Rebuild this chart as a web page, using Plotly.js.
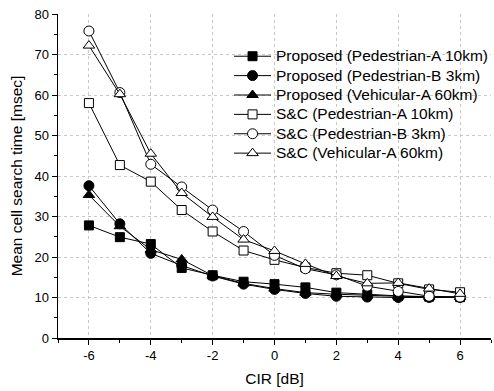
<!DOCTYPE html>
<html>
<head>
<meta charset="utf-8">
<script src="https://cdn.plot.ly/plotly-3.0.1.min.js"></script>
<style>html,body{margin:0;padding:0;background:#fff;}#chart{width:494px;height:391px;}</style>
</head>
<body>
<div id="chart"></div>
<script>
const cir = [-6, -5, -4, -3, -2, -1, 0, 1, 2, 3, 4, 5, 6];
const propPedA = [27.8, 24.9, 23.2, 17.3, 15.5, 13.9, 13.3, 12.5, 11.2, 10.8, 10.4, 10.2, 10.1];
const propPedB = [37.6, 28.2, 20.9, 17.9, 15.3, 13.3, 12.0, 11.0, 10.3, 10.1, 10.0, 10.0, 10.0];
const propVehA = [35.3, 27.6, 21.8, 19.4, 15.4, 13.5, 12.2, 11.2, 10.8, 10.5, 10.3, 10.2, 10.1];
const scPedA = [58.0, 42.7, 38.6, 31.6, 26.3, 21.6, 19.3, 17.4, 16.0, 15.5, 13.5, 12.0, 11.3];
const scPedB = [75.8, 60.6, 42.9, 37.3, 31.6, 26.3, 20.4, 17.1, 15.6, 12.8, 11.5, 10.3, 10.1];
const scVehA = [72.2, 60.2, 45.5, 35.8, 29.9, 24.3, 21.5, 18.3, 15.3, 13.5, 13.6, 12.2, 10.9];
const names = [
  'Proposed (Pedestrian-A 10km)',
  'Proposed (Pedestrian-B 3km)',
  'Proposed (Vehicular-A 60km)',
  'S&C (Pedestrian-A 10km)',
  'S&C (Pedestrian-B 3km)',
  'S&C (Vehicular-A 60km)'
];
const xTickVals = [-6, -4, -2, 0, 2, 4, 6];
const xTickText = ['-6', '-4', '-2', '0', '2', '4', '6'];
const series = [propPedA, propPedB, propVehA, scPedA, scPedB, scVehA];
const symbols = ['square', 'circle', 'triangle-up', 'square', 'circle', 'triangle-up'];
const sizes = [9, 10, 10, 9, 10, 10];

const esc = s => s.replace(/&/g, '&amp;');
const traces = series.map((ys, i) => ({
  x: cir, y: ys, type: 'scatter', mode: 'lines+markers',
  name: '<span style="font-size:15.5px">' + esc(names[i]) + '</span>',
  line: {color: '#000', width: 1},
  marker: {symbol: symbols[i], size: sizes[i], color: i < 3 ? '#000' : '#fff',
           line: {color: '#000', width: 1}}
}));

const FONT = 'Liberation Sans, Arial, sans-serif';
const axisCommon = {
  showline: true, linecolor: '#000', linewidth: 1.5, mirror: false,
  ticks: 'outside', ticklen: 5, tickwidth: 1, tickcolor: '#000',
  showgrid: true, gridcolor: '#c8c8c8', griddash: 'dot', gridwidth: 1,
  zeroline: false, tickfont: {family: FONT, size: 13, color: '#000'}
};

const layout = {
  width: 494, height: 391,
  margin: {l: 58, r: 1, t: 14, b: 53},
  paper_bgcolor: '#fff', plot_bgcolor: '#fff',
  showlegend: true,
  legend: {x: 0.395, y: 0.915, xanchor: 'left', yanchor: 'top', bgcolor: 'rgba(0,0,0,0)',
           font: {family: FONT, size: 12.6, color: '#000'},
           tracegroupgap: 0, itemwidth: 37},
  xaxis: Object.assign({}, axisCommon, {
    range: [-7, 7], tickvals: xTickVals, ticktext: xTickText,
    minor: {dtick: 1, ticks: 'outside', ticklen: 3, tickcolor: '#000', showgrid: false},
    title: {text: 'CIR [dB]', font: {family: FONT, size: 15.5, color: '#000'}, standoff: 11}
  }),
  yaxis: Object.assign({}, axisCommon, {
    range: [0, 80], dtick: 10,
    minor: {dtick: 5, ticks: 'outside', ticklen: 3, tickcolor: '#000', showgrid: false},
    title: {text: 'Mean cell search time [msec]', font: {family: FONT, size: 15.5, color: '#000'}, standoff: 8}
  })
};

Plotly.newPlot('chart', traces, layout, {displayModeBar: false, staticPlot: true});
</script>
</body>
</html>
